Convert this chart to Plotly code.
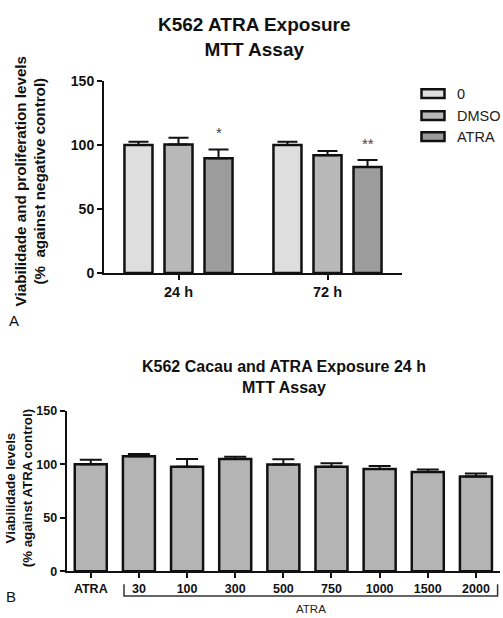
import plotly.graph_objects as go

W, H = 503, 618

# ---------------- data ----------------
time_points = ["24 h", "72 h"]
groups = ["0", "DMSO", "ATRA"]
group_colors = ["#dedede", "#b8b8b8", "#9c9c9c"]
mean_0 = [100.0, 100.0]
sem_0 = [2.5, 2.5]
mean_dmso = [100.5, 92.1]
sem_dmso = [5.1, 3.3]
mean_atra = [89.6, 82.8]
sem_atra = [6.9, 5.5]
stars_atra = ["*", "**"]

conc_labels = ["ATRA", "30", "100", "300", "500", "750", "1000", "1500", "2000"]
conc_mean = [100.0, 107.5, 97.5, 104.8, 99.7, 97.5, 95.4, 92.7, 88.5]
conc_sem = [4.2, 1.9, 7.3, 2.2, 4.8, 3.4, 3.0, 2.4, 2.7]
bottom_color = "#b4b4b4"

FONT = "Liberation Sans, Arial, sans-serif"


def px(x):
    return x / W


def py(y):
    return 1 - y / H


fig = go.Figure()

top_means = [mean_0, mean_dmso, mean_atra]
top_sems = [sem_0, sem_dmso, sem_atra]
for name, col, m, s in zip(groups, group_colors, top_means, top_sems):
    fig.add_trace(go.Bar(
        x=time_points, y=m, name=name, xaxis="x", yaxis="y",
        marker=dict(color=col, line=dict(color="#111111", width=2.5)),
        error_y=dict(type="data", symmetric=False, array=s, arrayminus=[0] * len(s),
                     color="#111111", thickness=2, width=10),
        showlegend=False,
    ))

fig.add_trace(go.Bar(
    x=conc_labels, y=conc_mean, xaxis="x2", yaxis="y2", width=0.665,
    marker=dict(color=bottom_color, line=dict(color="#111111", width=2.5)),
    error_y=dict(type="data", symmetric=False, array=conc_sem,
                 arrayminus=[0] * len(conc_sem),
                 color="#111111", thickness=2, width=11),
    showlegend=False,
))


def axis_style(size):
    return dict(
        showline=True, linecolor="#111111", linewidth=2,
        ticks="outside", ticklen=5, tickwidth=2, tickcolor="#111111",
        showgrid=False, zeroline=False,
        tickfont=dict(family=FONT, size=size, color="#111111", weight="bold"),
    )


fig.update_layout(
    width=W, height=H,
    margin=dict(l=0, r=0, t=0, b=0),
    paper_bgcolor="white", plot_bgcolor="white",
    barmode="group", bargap=0.194, bargroupgap=0.30,
    xaxis=dict(domain=[px(104), px(402)], range=[-0.5, 1.5], anchor="y",
               type="category", **axis_style(14.5)),
    yaxis=dict(domain=[py(272), py(75)], range=[0, 150], anchor="x",
               tickvals=[0, 50, 100, 150], **axis_style(14)),
    xaxis2=dict(domain=[px(66.7), px(500)], range=[-0.5, 8.5], anchor="y2",
                type="category", **axis_style(12.5)),
    yaxis2=dict(domain=[py(578.3), py(413.3)], range=[0, 150], anchor="x2",
                tickvals=[0, 50, 100, 150], **axis_style(12.5)),
)


def label(text, x, y, size, xref="paper", yref="paper", **kw):
    d = dict(text=text, x=x, y=y, xref=xref, yref=yref, showarrow=False,
             xanchor="center", yanchor="middle",
             font=dict(family=FONT, size=size, color=kw.pop("color", "#111111")))
    d.update(kw)
    return d


ann = []
# titles
ann.append(label("<b>K562 ATRA Exposure<br>MTT Assay</b>", px(254), py(30), 19))
ann.append(label("<b>K562 Cacau and ATRA Exposure 24 h<br>MTT Assay</b>", px(284), py(379), 16))
# y axis titles
ann.append(label("<b>Viabilidade and proliferation levels<br>(%  against negative control)</b>",
                 px(30), py(178), 15.2, textangle=-90))
ann.append(label("<b>Viabilidade levels<br>(% against ATRA control)</b>",
                 px(19), py(493), 13.3, textangle=-90))
# panel letters
ann.append(label("A", px(14), py(321), 15))
ann.append(label("B", px(11), py(604), 15))

# significance stars above ATRA bars (offset of third bar within group)
slot_px = (402 - 104) / 2.0
atra_shift = slot_px * (1 - 0.194) / 3.0
for i, (m, s, st) in enumerate(zip(mean_atra, sem_atra, stars_atra)):
    ann.append(dict(text=st, x=i, y=m + s, xref="x", yref="y", xshift=atra_shift,
                    yshift=6, xanchor="center", yanchor="bottom", showarrow=False,
                    font=dict(family=FONT, size=15, color="#444444")))

# legend (drawn manually)
shapes = []
leg_rows = [88, 110.5, 132]
for name, col, yc in zip(groups, group_colors, leg_rows):
    shapes.append(dict(type="rect", xref="paper", yref="paper",
                       x0=px(421.5), x1=px(444.5), y0=py(yc + 4.5), y1=py(yc - 4.5),
                       fillcolor=col, line=dict(color="#111111", width=2.5)))
    ann.append(label(name, px(455), py(yc), 14.5, xanchor="left", color="#222222"))

# bracket under concentrations
br_left = 0.69
br_right = 8.45
shapes.append(dict(type="path", xref="x2", yref="paper",
                   path=f"M {br_left},{py(591.5)} L {br_left},{py(603.5)} L {br_right},{py(603.5)} L {br_right},{py(591.5)}",
                   line=dict(color="#333333", width=1.5)))
ann.append(label("ATRA", (br_left + br_right) / 2, py(609), 11.5, xref="x2",
                 yanchor="top", color="#222222"))

fig.update_layout(annotations=ann, shapes=shapes)

fig.write_html("out.html")
